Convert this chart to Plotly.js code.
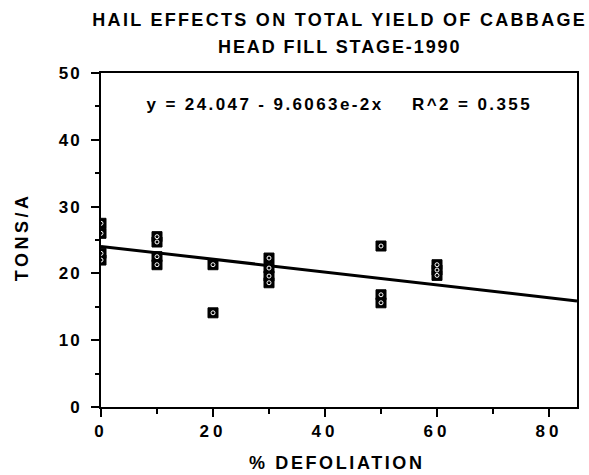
<!DOCTYPE html>
<html><head><meta charset="utf-8">
<script src="https://cdn.plot.ly/plotly-3.0.1.min.js"></script>
<style>
html,body{margin:0;padding:0;background:#fff}
#chart{width:589px;height:475px}
#chart .xtick text{letter-spacing:4px}
#chart .ytick text{letter-spacing:2px}
</style>
</head><body><div id="chart"></div>
<script>
var defoliation = [0,0,0,0, 10,10,10,10, 20,20, 30,30,30,30, 50,50,50, 60,60,60];
var yieldTons   = [27.5,26.0,23.0,22.0, 25.5,24.7,22.5,21.3, 21.3,14.1, 22.3,20.8,19.6,18.6, 24.1,16.8,15.6, 21.3,20.5,19.7];
// Regression (from the printed equation)
var intercept = 24.047;
var slope = -0.096063;
var lineX = [0, 85];
var lineY = lineX.map(function(x){ return intercept + slope * x; });
var xTicks = [0,20,40,60,80];
var yTicks = [0,10,20,30,40,50];
var titleLines = ['HAIL EFFECTS ON TOTAL YIELD OF CABBAGE', 'HEAD FILL STAGE-1990'];
var equationText = 'y = 24.047 - 9.6063e-2x    R^2 = 0.355';
var xTitle = '% DEFOLIATION';
var yTitle = 'TONS/A';

var fontFam = 'Liberation Sans, Arial, sans-serif';

var traces = [
  {x: lineX, y: lineY, mode: 'lines', line: {color: '#000', width: 3}, hoverinfo: 'skip'},
  {x: defoliation, y: yieldTons, mode: 'markers',
   marker: {symbol: 'square', size: 10, color: '#000', line: {color: '#000', width: 1}}},
  {x: defoliation, y: yieldTons, mode: 'markers',
   marker: {symbol: 'circle-open', size: 4, color: '#fff', line: {color: '#fff', width: 1}}}
];

function ann(text, x, y, size, angle) {
  return {xref: 'paper', yref: 'paper', x: x, y: y, xanchor: 'center', yanchor: 'middle',
    text: '<b>' + text + '</b>', showarrow: false, textangle: angle || 0,
    font: {family: fontFam, size: size, color: '#000'}};
}

var layout = {
  width: 589, height: 475,
  margin: {l: 101, r: 12, t: 73, b: 68},
  paper_bgcolor: '#fff', plot_bgcolor: '#fff',
  showlegend: false,
  font: {family: fontFam, color: '#000'},
  xaxis: {
    range: [0, 85], tickvals: xTicks, ticktext: xTicks.map(String),
    showgrid: false, zeroline: false,
    showline: true, linecolor: '#000', linewidth: 2, mirror: true,
    ticks: 'outside', ticklen: 8, tickwidth: 2, tickcolor: '#000',
    minor: {dtick: 10, tick0: 0, ticks: 'outside', ticklen: 5, tickwidth: 2, tickcolor: '#000', showgrid: false},
    tickfont: {family: fontFam, size: 17, color: '#000', weight: 'bold'}
  },
  yaxis: {
    range: [0, 50], tickvals: yTicks, ticktext: yTicks.map(String),
    showgrid: false, zeroline: false,
    showline: true, linecolor: '#000', linewidth: 2, mirror: true,
    ticks: 'outside', ticklen: 8, tickwidth: 2, tickcolor: '#000',
    ticklabelstandoff: 6,
    minor: {dtick: 5, tick0: 0, ticks: 'outside', ticklen: 4, tickwidth: 2, tickcolor: '#000', showgrid: false},
    tickfont: {family: fontFam, size: 17, color: '#000', weight: 'bold'}
  },
  annotations: [
    ann(titleLines[0], 0.5, 1.1587, 18),
    ann(titleLines[1], 0.5, 1.0778, 18),
    ann(equationText, 0.5, 0.907, 17),
    ann(xTitle, 0.495, -0.167, 18),
    ann(yTitle, -0.166, 0.51, 18, -90)
  ]
};

var spacing = ['2.3px', '1.9px', '2.4px', '2.6px', '3.5px'];

Plotly.newPlot('chart', traces, layout, {displayModeBar: false, staticPlot: true}).then(function(gd){
  var anns = gd.querySelectorAll('.infolayer .annotation text');
  for (var i = 0; i < anns.length && i < spacing.length; i++) {
    anns[i].style.letterSpacing = spacing[i];
  }
});
</script>
</body></html>
